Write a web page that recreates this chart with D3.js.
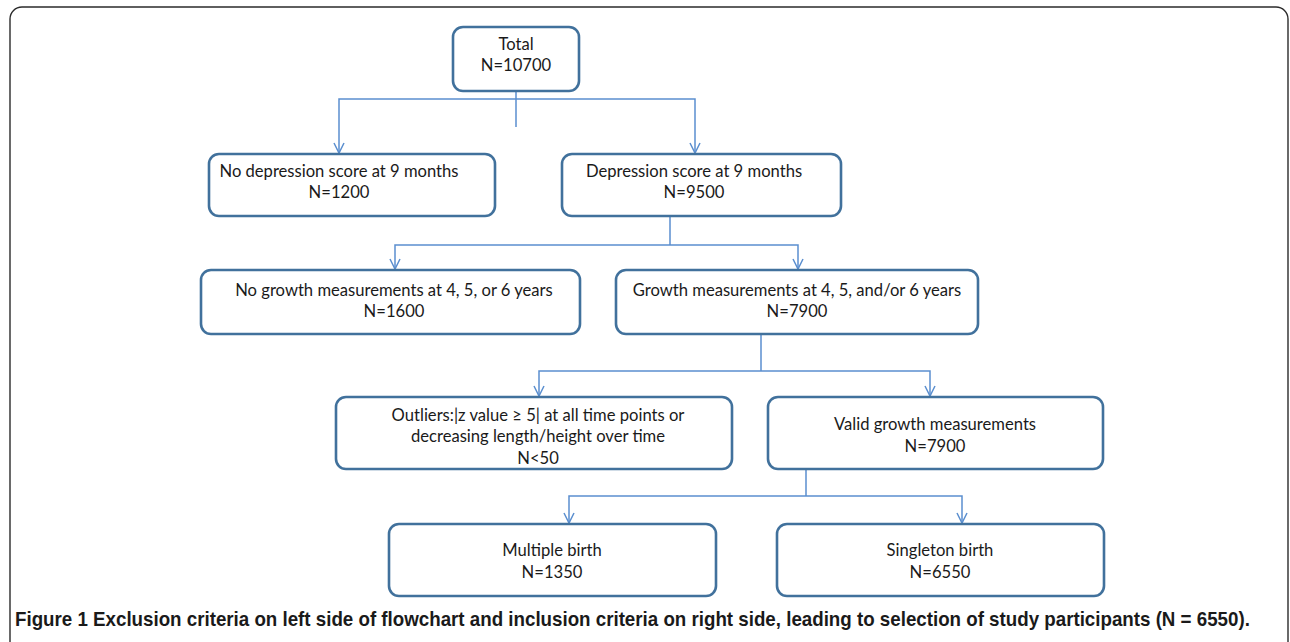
<!DOCTYPE html>
<html>
<head>
<meta charset="utf-8">
<script src="https://cdn.jsdelivr.net/npm/d3@7"></script>
<style>
  body { margin: 0; background: #fff; }
  svg { display: block; }
</style>
</head>
<body>
<div id="chart"></div>
<script>

// flow data
let nodeIds = ['total', 'noDep', 'dep', 'noGrowth', 'growth', 'outliers', 'valid', 'multiple', 'singleton'];
let nodeLines = [
    ['Total'],
    ['No depression score at 9 months'],
    ['Depression score at 9 months'],
    ['No growth measurements at 4, 5, or 6 years'],
    ['Growth measurements at 4, 5, and/or 6 years'],
    ['Outliers:|z value \u2265 5| at all time points or', 'decreasing length/height over time'],
    ['Valid growth measurements'],
    ['Multiple birth'],
    ['Singleton birth']
];
let nodeCounts = ['N=10700', 'N=1200', 'N=9500', 'N=1600', 'N=7900', 'N<50', 'N=7900', 'N=1350', 'N=6550'];
// parent -> [left child, right child]
let splits = [
    ['total', 'noDep', 'dep'],
    ['dep', 'noGrowth', 'growth'],
    ['growth', 'outliers', 'valid'],
    ['valid', 'multiple', 'singleton']
];
let caption = 'Figure 1 Exclusion criteria on left side of flowchart and inclusion criteria on right side, leading to selection of study participants (N = 6550).';


// layout (page pixels)
let dim = { 'width': 1290, 'height': 642 };

let boxes = {
    total:     { x0: 453, x1: 579, y0: 27,  y1: 91,  tx: 516, ty: 44,  gap: 21 },
    noDep:     { x0: 209, x1: 495, y0: 154, y1: 216, tx: 339, ty: 171, gap: 21 },
    dep:       { x0: 562, x1: 841, y0: 154, y1: 216, tx: 694, ty: 171, gap: 21 },
    noGrowth:  { x0: 201, x1: 580, y0: 270, y1: 334, tx: 394, ty: 290, gap: 21 },
    growth:    { x0: 616, x1: 978, y0: 270, y1: 334, tx: 797, ty: 290, gap: 21 },
    outliers:  { x0: 336, x1: 732, y0: 397, y1: 469, tx: 538, ty: 415, gap: 21.5 },
    valid:     { x0: 768, x1: 1103, y0: 397, y1: 469, tx: 935, ty: 424, gap: 22 },
    multiple:  { x0: 389, x1: 716, y0: 524, y1: 596, tx: 552, ty: 550, gap: 22 },
    singleton: { x0: 777, x1: 1104, y0: 524, y1: 596, tx: 940, ty: 550, gap: 22 }
};

// connectors: stem x, bar y, left/right arrow x, stub end below bar
let joins = {
    total:  { sx: 516, by: 99,  lx: 339, rx: 695, stub: 127 },
    dep:    { sx: 670, by: 245, lx: 395, rx: 798, stub: 245 },
    growth: { sx: 761, by: 371, lx: 539, rx: 930, stub: 371 },
    valid:  { sx: 806, by: 496, lx: 569, rx: 962, stub: 496 }
};

let sx = d3.scaleLinear().domain([0, dim.width]).range([0, dim.width]);
let sy = d3.scaleLinear().domain([0, dim.height]).range([0, dim.height]);

let lineColor = '#5b8fcf';
let boxColor = '#41719c';
let textFont = 'Lato, "Open Sans", sans-serif';


let svg = d3.select('#chart').append('svg')
    .attr('width', dim.width)
    .attr('height', dim.height);

// outer frame
svg.append('rect')
    .attr('x', sx(10))
    .attr('y', sy(7))
    .attr('width', sx(1278))
    .attr('height', sy(720))
    .attr('rx', 12)
    .attr('fill', 'none')
    .attr('stroke', '#2b2b2b')
    .attr('stroke-width', 1.4);


let g = svg.append('g');

let nodes = nodeIds.map((id, i) => ({
    id: id,
    lines: nodeLines[i].concat([nodeCounts[i]]),
    box: boxes[id]
}));


// connectors
splits.forEach(s => {
    let j = joins[s[0]];
    let parent = boxes[s[0]];
    let left = boxes[s[1]];
    let right = boxes[s[2]];

    let path = d3.path();
    path.moveTo(sx(j.sx), sy(parent.y1));
    path.lineTo(sx(j.sx), sy(Math.max(j.by, j.stub)));
    path.moveTo(sx(j.lx), sy(left.y0 - 1));
    path.lineTo(sx(j.lx), sy(j.by));
    path.lineTo(sx(j.rx), sy(j.by));
    path.lineTo(sx(j.rx), sy(right.y0 - 1));

    g.append('path')
        .attr('d', path.toString())
        .attr('fill', 'none')
        .attr('stroke', lineColor)
        .attr('stroke-width', 1.5);

    [[j.lx, left.y0 - 1], [j.rx, right.y0 - 1]].forEach(p => {
        g.append('path')
            .attr('d', `M${sx(p[0]) - 5},${sy(p[1]) - 10} L${sx(p[0])},${sy(p[1])} L${sx(p[0]) + 5},${sy(p[1]) - 10}`)
            .attr('fill', 'none')
            .attr('stroke', lineColor)
            .attr('stroke-width', 1.5);
    });
});


// boxes
let node = g.selectAll('g.node')
    .data(nodes, d => d.id)
    .join('g')
    .attr('class', 'node');

node.append('rect')
    .attr('x', d => sx(d.box.x0))
    .attr('y', d => sy(d.box.y0))
    .attr('width', d => sx(d.box.x1) - sx(d.box.x0))
    .attr('height', d => sy(d.box.y1) - sy(d.box.y0))
    .attr('rx', 10)
    .attr('fill', '#fff')
    .attr('stroke', boxColor)
    .attr('stroke-width', 2.6);

node.each(function(d) {
    let t = d3.select(this).append('text')
        .attr('text-anchor', 'middle')
        .attr('font-family', textFont)
        .attr('font-size', '16.6px')
        .attr('fill', '#1a1a1a');
    d.lines.forEach((line, i) => {
        t.append('tspan')
            .attr('x', sx(d.box.tx))
            .attr('y', sy(d.box.ty + i * d.box.gap))
            .attr('dy', '0.35em')
            .text(line);
    });
});


// caption, squeezed horizontally to the reference width
let cap = svg.append('text')
    .attr('dy', '0.35em')
    .attr('font-family', '"Liberation Sans", Arial, sans-serif')
    .attr('font-weight', 'bold')
    .attr('font-size', '20.5px')
    .attr('fill', '#1a1a1a')
    .text(caption);

let capLen = cap.node().getComputedTextLength();
cap.attr('transform', `translate(${sx(15)},${sy(619)}) scale(${1236 / capLen},1)`);

</script>
</body>
</html>
